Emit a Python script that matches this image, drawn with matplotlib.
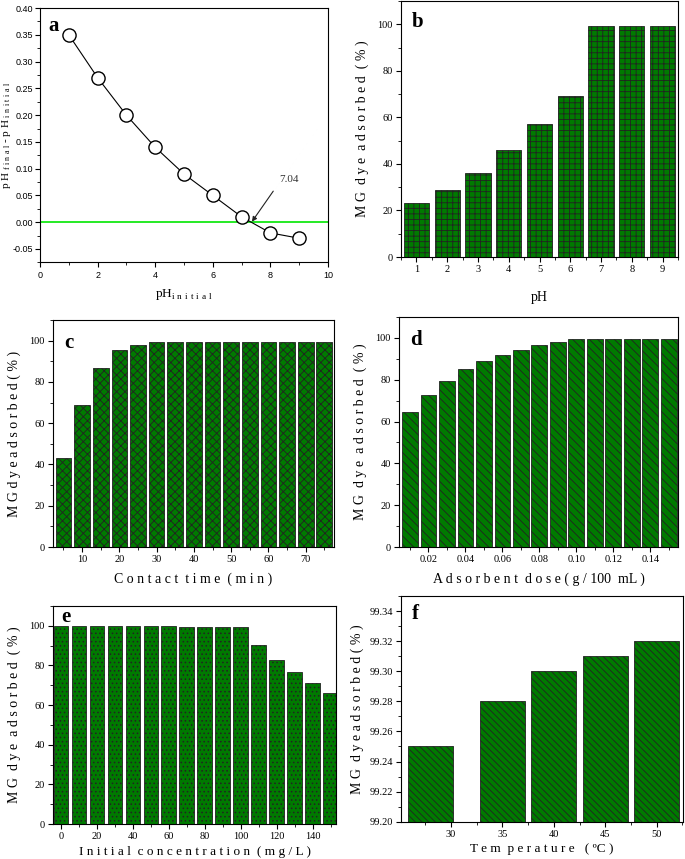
import numpy as np
import matplotlib
matplotlib.use('Agg')
import matplotlib.pyplot as plt
from matplotlib.ticker import MultipleLocator, FormatStrFormatter

plt.rcParams['font.family'] = 'Liberation Serif'
plt.rcParams['mathtext.fontset'] = 'custom'
plt.rcParams['mathtext.rm'] = 'Liberation Serif'
plt.rcParams['hatch.linewidth'] = 0.6
plt.rcParams['xtick.direction'] = 'out'
plt.rcParams['ytick.direction'] = 'out'

# --- data ---
ph_initial = [1, 2, 3, 4, 5, 6, 7, 8, 9]
ph_diff = [0.35, 0.27, 0.20, 0.14, 0.09, 0.05, 0.01, -0.02, -0.03]

ph_values = [1, 2, 3, 4, 5, 6, 7, 8, 9]
ph_removal = [23.0, 29.0, 36.3, 46.2, 57.3, 69.4, 99.3, 99.3, 99.3]

contact_time = [5, 10, 15, 20, 25, 30, 35, 40, 45, 50, 55, 60, 65, 70, 75]
time_removal = [43.2, 69.0, 86.5, 95.5, 98.0, 99.3, 99.3, 99.3, 99.3, 99.3, 99.3, 99.3, 99.3, 99.3, 99.3]

dose = [0.01, 0.02, 0.03, 0.04, 0.05, 0.06, 0.07, 0.08, 0.09, 0.10, 0.11, 0.12, 0.13, 0.14, 0.15]
dose_removal = [64.5, 72.8, 79.5, 85.3, 89.0, 92.0, 94.3, 96.4, 97.8, 99.3, 99.3, 99.3, 99.3, 99.3, 99.3]

conc = [0, 10, 20, 30, 40, 50, 60, 70, 80, 90, 100, 110, 120, 130, 140, 150]
conc_removal = [100.0, 100.0, 100.0, 99.8, 99.8, 99.7, 99.7, 99.6, 99.5, 99.4, 99.2,
                90.5, 82.7, 76.8, 71.3, 66.3]

temp_pos = [28, 35, 40, 45, 50]
temp_removal = [99.25, 99.28, 99.30, 99.31, 99.32]

green = '#007a00'
edge = '#222222'

fig = plt.figure(figsize=(6.85, 8.59), dpi=100)

ax_a = fig.add_axes([0.0584, 0.6946, 0.4204, 0.2960])
ax_b = fig.add_axes([0.5854, 0.7008, 0.4044, 0.2980])
ax_c = fig.add_axes([0.0774, 0.3632, 0.4102, 0.2643])
ax_d = fig.add_axes([0.5825, 0.3632, 0.4073, 0.2678])
ax_e = fig.add_axes([0.0774, 0.0407, 0.4131, 0.2538])
ax_f = fig.add_axes([0.5854, 0.0434, 0.4117, 0.2627])


def style(ax, letter, lx=0.04, ly=0.9):
    ax.tick_params(which='both', top=False, right=False, labelsize=7.5, pad=2.5)
    ax.tick_params(which='major', length=3.5)
    ax.tick_params(which='minor', length=2)
    ax.text(lx, ly, letter, transform=ax.transAxes, fontsize=15,
            fontweight='bold', va='center')


def bars(ax, x, y, width, hatch):
    ax.bar(x, y, width=width, color=green, edgecolor=edge, lw=0.6, hatch=hatch)


# a: point of zero charge
ax_a.axhline(0, color='#00e600', lw=1.2, zorder=1)
ax_a.plot(ph_initial, ph_diff, color='black', lw=0.8, marker='o', ms=9.5,
          mfc='white', mec='black', mew=1.0, zorder=3)
ax_a.set_xlim(0, 10)
ax_a.set_ylim(-0.075, 0.40)
ax_a.xaxis.set_major_locator(MultipleLocator(2))
ax_a.xaxis.set_minor_locator(MultipleLocator(1))
ax_a.yaxis.set_major_locator(MultipleLocator(0.05))
ax_a.yaxis.set_minor_locator(MultipleLocator(0.025))
ax_a.yaxis.set_major_formatter(FormatStrFormatter('%.2f'))
style(ax_a, 'a', 0.03, 0.93)
ax_a.tick_params(axis='y', pad=1.5)
for lab in ax_a.get_xticklabels() + ax_a.get_yticklabels():
    lab.set_family('Liberation Sans')
    lab.set_fontsize(6.5)
ax_a.annotate('', xy=(7.36, 0.001), xytext=(8.1, 0.058),
              arrowprops=dict(arrowstyle='-|>', color='#222222', lw=0.8,
                              mutation_scale=7, shrinkA=0, shrinkB=0))
ax_a.text(8.3, 0.079, '7.04', fontsize=8, color='#333333', va='center')
ax_a.set_xlabel(r'pH$_{\rm i\ n\ i\ t\ i\ a\ l}$', fontsize=9.5, labelpad=5)
ax_a.set_ylabel(r'p H$_{\rm\ f\ i\ n\ a\ l}$ - p H$_{\rm\ i\ n\ i\ t\ i\ a\ l}$',
                fontsize=8, va='center')
ax_a.yaxis.set_label_coords(-0.118, 0.5)

# b: pH effect
bars(ax_b, ph_values, ph_removal, 0.82, '+++')
ax_b.set_xlim(0.5, 9.5)
ax_b.set_ylim(0, 110)
ax_b.xaxis.set_major_locator(MultipleLocator(1))
ax_b.xaxis.set_minor_locator(MultipleLocator(0.5))
ax_b.yaxis.set_major_locator(MultipleLocator(20))
ax_b.yaxis.set_minor_locator(MultipleLocator(10))
style(ax_b, 'b', 0.04, 0.92)
ax_b.set_xlabel('pH', fontsize=10, labelpad=12)
ax_b.set_ylabel('M G  d y e  a d s o r b e d  ( % )', fontsize=10, labelpad=6)

# c: contact time
bars(ax_c, contact_time, time_removal, 4.2, 'xxxx')
ax_c.set_xlim(2.2, 77.6)
ax_c.set_ylim(0, 110)
ax_c.xaxis.set_major_locator(MultipleLocator(10))
ax_c.xaxis.set_minor_locator(MultipleLocator(5))
ax_c.yaxis.set_major_locator(MultipleLocator(20))
ax_c.yaxis.set_minor_locator(MultipleLocator(10))
style(ax_c, 'c', 0.04, 0.9)
ax_c.set_xlabel('C o n t a c t  t i m e  ( m i n )', fontsize=10, labelpad=6)
ax_c.set_ylabel('M G d y e a d s o r b e d ( % )', fontsize=10, labelpad=6)

# d: adsorbent dose
bars(ax_d, dose, dose_removal, 0.0085, '\\\\\\\\')
ax_d.set_xlim(0.0041, 0.155)
ax_d.set_ylim(0, 110)
ax_d.set_xticks([0.02, 0.04, 0.06, 0.08, 0.10, 0.12, 0.14])
ax_d.xaxis.set_minor_locator(MultipleLocator(0.01))
ax_d.xaxis.set_major_formatter(FormatStrFormatter('%.2f'))
ax_d.yaxis.set_major_locator(MultipleLocator(20))
ax_d.yaxis.set_minor_locator(MultipleLocator(10))
style(ax_d, 'd', 0.04, 0.9)
ax_d.set_xlabel('A d s o r b e n t  d o s e ( g / 100  mL )', fontsize=10, labelpad=6)
ax_d.set_ylabel('M G  d y e  a d s o r b e d  ( % )', fontsize=10, labelpad=6)

# e: initial concentration
bars(ax_e, conc, conc_removal, 8.2, '....')
ax_e.set_xlim(-4.45, 153)
ax_e.set_ylim(0, 110)
ax_e.xaxis.set_major_locator(MultipleLocator(20))
ax_e.xaxis.set_minor_locator(MultipleLocator(10))
ax_e.yaxis.set_major_locator(MultipleLocator(20))
ax_e.yaxis.set_minor_locator(MultipleLocator(10))
style(ax_e, 'e', 0.03, 0.95)
ax_e.set_xlabel('I n i t i a l  c o n c e n t r a t i o n  ( m g / L )', fontsize=9.5, labelpad=3)
ax_e.set_ylabel('M G  d y e  a d s o r b e d  ( % )', fontsize=10, labelpad=6)

# f: temperature
bars(ax_f, temp_pos, temp_removal, 4.4, '\\\\\\\\\\')
ax_f.set_xlim(25.13, 52.56)
ax_f.set_ylim(99.20, 99.35)
ax_f.set_xticks([30, 35, 40, 45, 50])
ax_f.xaxis.set_minor_locator(MultipleLocator(2.5))
ax_f.yaxis.set_major_locator(MultipleLocator(0.02))
ax_f.yaxis.set_minor_locator(MultipleLocator(0.01))
ax_f.yaxis.set_major_formatter(FormatStrFormatter('%.2f'))
style(ax_f, 'f', 0.04, 0.92)
ax_f.set_xlabel('T e m  p e r a t u r e   ( ºC )', fontsize=9.5, labelpad=3)
ax_f.set_ylabel('M G  d y e a d s o r b e d ( % )', fontsize=10, labelpad=4)

fig.savefig('out.png', dpi=100)
